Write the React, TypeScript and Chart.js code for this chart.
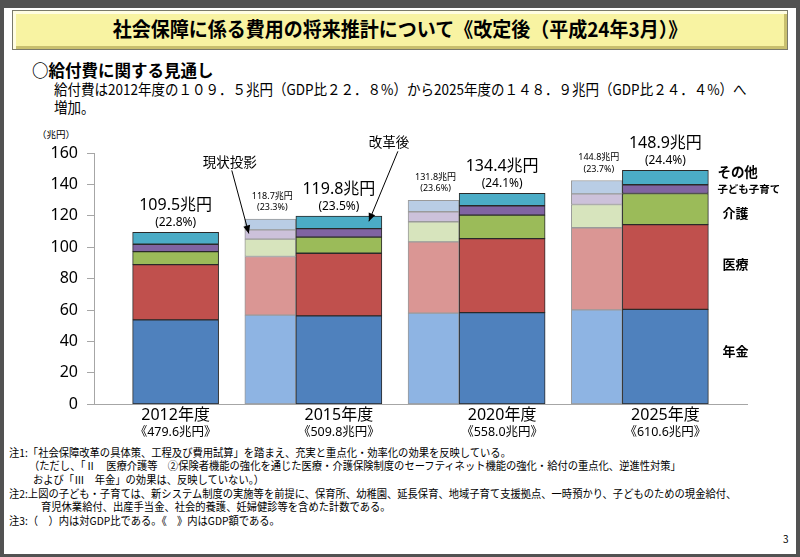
import React, { useEffect, useRef } from 'react';
import { Chart, registerables } from 'chart.js';

Chart.register(...registerables);

// ---- data ----
const categories = ['2012年度', '2015年度', '2020年度', '2025年度'];
const gdpLabels = ['《479.6兆円》', '《509.8兆円》', '《558.0兆円》', '《610.6兆円》'];
const reformTotalLabels = ['109.5兆円', '119.8兆円', '134.4兆円', '148.9兆円'];
const reformRatioLabels = ['(22.8%)', '(23.5%)', '(24.1%)', '(24.4%)'];
const seriesNames = ['年金', '医療', '介護', '子ども子育て', 'その他'];

const reformPension = [53.8, 56.3, 58.4, 60.4];
const reformMedical = [35.1, 39.9, 47.1, 54.0];
const reformCare = [8.3, 10.2, 14.9, 19.8];
const reformChildren = [4.7, 5.5, 6.0, 5.6];
const reformOther = [7.6, 7.9, 8.0, 9.1];

// 現状投影 (projection before reform) for 2015, 2020, 2025
const projCategoryIndex = [1, 2, 3];
const projTotalLabels = ['118.7兆円', '131.8兆円', '144.8兆円'];
const projRatioLabels = ['(23.3%)', '(23.6%)', '(23.7%)'];
const projPension = [56.8, 58.0, 60.1];
const projMedical = [37.3, 45.4, 52.3];
const projCare = [11.1, 12.8, 14.8];
const projChildren = [5.9, 6.4, 6.8];
const projOther = [6.8, 7.2, 8.5];

const Y_MIN = 0;
const Y_MAX = 160;
const Y_STEP = 20;

// ---- styles ----
const reformColors = ['#4F81BD', '#C0504D', '#9BBB59', '#8064A2', '#4BACC6'];
const projColors = ['#8EB4E3', '#DA9694', '#D7E4BD', '#CCC1DA', '#B9CDE5'];
const PROJ_SHIFT = -0.42; // projection bar sits just left of the reform bar (in category units)
const REFORM_BAR_PX = 86;
const PROJ_BAR_PX = 51;
const FONT = "'Noto Sans', 'Noto Sans CJK JP', sans-serif";
const JP = "'Noto Sans CJK JP', 'Noto Sans', sans-serif";

const reformSeries = [reformPension, reformMedical, reformCare, reformChildren, reformOther];
const projSeries = [projPension, projMedical, projCare, projChildren, projOther];

function drawArrow(ctx: CanvasRenderingContext2D, x1: number, y1: number, x2: number, y2: number) {
  ctx.save();
  ctx.strokeStyle = '#000';
  ctx.fillStyle = '#000';
  ctx.lineWidth = 1;
  ctx.beginPath();
  ctx.moveTo(x1, y1);
  ctx.lineTo(x2, y2);
  ctx.stroke();
  const a = Math.atan2(y2 - y1, x2 - x1);
  const L = 8, W = 3.5;
  ctx.beginPath();
  ctx.moveTo(x2, y2);
  ctx.lineTo(x2 - L * Math.cos(a) + W * Math.sin(a), y2 - L * Math.sin(a) - W * Math.cos(a));
  ctx.lineTo(x2 - L * Math.cos(a) - W * Math.sin(a), y2 - L * Math.sin(a) + W * Math.cos(a));
  ctx.closePath();
  ctx.fill();
  ctx.restore();
}

const annotPlugin = {
  id: 'annot',
  afterDraw(chart: any) {
    const ctx: CanvasRenderingContext2D = chart.ctx;
    const area = chart.chartArea;
    const n = seriesNames.length;
    const text = (s: string, x: number, y: number, font: string, align: CanvasTextAlign = 'center') => {
      ctx.font = font;
      ctx.fillStyle = '#000';
      ctx.textAlign = align;
      ctx.textBaseline = 'middle';
      ctx.fillText(s, x, y);
    };
    ctx.save();
    // reform totals
    const reformTop = chart.getDatasetMeta(n - 1);
    categories.forEach((_, i) => {
      const el = reformTop.data[i];
      text(reformTotalLabels[i], el.x, el.y - 27, `16px ${FONT}`);
      text(reformRatioLabels[i], el.x, el.y - 10, `12px ${FONT}`);
      text(gdpLabels[i], el.x, area.bottom + 28.5, `12.5px ${FONT}`);
    });
    // projection totals
    const projTop = chart.getDatasetMeta(2 * n - 1);
    projCategoryIndex.forEach((_, j) => {
      const el = projTop.data[j];
      text(projTotalLabels[j], el.x + 2, el.y - 23, `9px ${FONT}`);
      text(projRatioLabels[j], el.x + 2, el.y - 11.5, `9px ${FONT}`);
    });
    // right-side series names next to the last reform bar
    const lastIdx = categories.length - 1;
    const nameOffsets = [-6, -3, 3.5, 0, -6];
    const nameDx = [14, 14, 14, 9, 9];
    const nameFonts = [`bold 13px ${JP}`, `bold 13px ${JP}`, `bold 13px ${JP}`, `bold 10.5px ${JP}`, `bold 13.5px ${JP}`];
    for (let k = 0; k < n; k++) {
      const el = chart.getDatasetMeta(k).data[lastIdx];
      const mid = (el.y + el.base) / 2;
      text(seriesNames[k], el.x + el.width / 2 + nameDx[k], mid + nameOffsets[k], nameFonts[k], 'left');
    }
    // arrows
    const pc = chart.getDatasetMeta(n + 3).data[0];
    const pEnd = { x: pc.x - pc.width / 2 + 4, y: (pc.y + pc.base) / 2 - 1 };
    drawArrow(ctx, pEnd.x - 17, pEnd.y - 63, pEnd.x, pEnd.y);
    text('現状投影', pEnd.x - 19, pEnd.y - 72, `13.5px ${JP}`);
    const ro = chart.getDatasetMeta(n - 1).data[1];
    const rEnd = { x: ro.x + 30, y: (ro.y + ro.base) / 2 - 1 };
    drawArrow(ctx, rEnd.x + 29, rEnd.y - 70, rEnd.x, rEnd.y);
    text('改革後', rEnd.x + 20, rEnd.y - 79, `13.5px ${JP}`);
    ctx.restore();
  },
};

function T(props: { x: number; y: number; size: number; bold?: boolean; sx?: number; children: any }) {
  const { x, y, size, bold, sx = 1, children } = props;
  return (
    <div
      style={{
        position: 'absolute',
        left: x,
        top: y - size * 0.556,
        fontSize: size,
        lineHeight: `${size}px`,
        height: size,
        fontWeight: bold ? 700 : 400,
        whiteSpace: 'nowrap',
        transform: `scaleX(${sx})`,
        transformOrigin: 'left center',
        fontFamily: JP,
        color: '#000',
      }}
    >
      {children}
    </div>
  );
}

export default function App() {
  const ref = useRef<HTMLCanvasElement>(null);
  useEffect(() => {
    if (!ref.current) return;
    const datasets: any[] = [];
    reformSeries.forEach((vals, k) => {
      datasets.push({
        label: seriesNames[k],
        data: vals.map((v, i) => ({ x: i, y: v })),
        stack: 'reform',
        grouped: false,
        barThickness: REFORM_BAR_PX,
        backgroundColor: reformColors[k],
        borderColor: '#2a2a2a',
        borderWidth: 1,
        borderSkipped: false,
      });
    });
    projSeries.forEach((vals, k) => {
      datasets.push({
        label: '現状投影 ' + seriesNames[k],
        data: vals.map((v, j) => ({ x: projCategoryIndex[j] + PROJ_SHIFT, y: v })),
        stack: 'proj',
        grouped: false,
        barThickness: PROJ_BAR_PX,
        backgroundColor: projColors[k],
        borderColor: '#9a9a9a',
        borderWidth: 1,
        borderSkipped: false,
      });
    });
    const chart = new Chart(ref.current, {
      type: 'bar',
      data: { datasets },
      plugins: [annotPlugin],
      options: {
        animation: false,
        responsive: false,
        devicePixelRatio: 1,
        layout: { padding: { top: 153, right: 53, bottom: 122.7, left: 0 } },
        plugins: { legend: { display: false }, tooltip: { enabled: false } },
        scales: {
          x: {
            type: 'linear',
            min: -0.5,
            max: categories.length - 0.5,
            offset: false,
            afterBuildTicks: (s: any) => {
              s.ticks = categories.map((_, i) => ({ value: i }));
            },
            grid: { display: false, drawTicks: false },
            border: { display: true, color: '#A6A6A6', width: 1 },
            ticks: {
              autoSkip: false,
              maxRotation: 0,
              font: { size: 16, family: FONT },
              color: '#000',
              padding: 2,
              callback: (v: any) => categories[Math.round(v)] ?? '',
            },
            afterFit: (s: any) => {
              s.height = 30;
            },
          },
          y: {
            stacked: true,
            min: Y_MIN,
            max: Y_MAX,
            ticks: { stepSize: Y_STEP, font: { size: 16, family: FONT }, color: '#000', padding: 9 },
            grid: { display: true, drawOnChartArea: false, drawTicks: true, tickLength: 7, color: '#A6A6A6' },
            border: { display: true, color: '#A6A6A6', width: 1 },
            afterFit: (s: any) => {
              s.width = 94;
            },
          },
        },
      } as any,
    });
    return () => chart.destroy();
  }, []);

  const noteSize = 11;
  const noteSx = 0.935;
  const noteY0 = 453;
  const noteStep = 13.6;

  return (
    <div style={{ position: 'absolute', left: 0, top: 0, width: 800, height: 557, background: '#525252', overflow: 'hidden' }}>
      <div style={{ position: 'absolute', left: 4, top: 8, width: 792, height: 546, background: '#fff' }} />
      <div
        style={{
          position: 'absolute',
          left: 12,
          top: 10,
          width: 776,
          height: 40,
          boxSizing: 'border-box',
          background: '#F8F3A2',
          border: '1px solid #7a7a6a',
          boxShadow: 'inset 3px 3px 0 #FFFDE2, inset -3px -3px 0 #C8BF6E',
        }}
      />
      <div
        style={{
          position: 'absolute',
          left: 12,
          top: 30 - 20 * 0.556,
          width: 776,
          textAlign: 'center',
          fontSize: 20,
          lineHeight: '20px',
          fontWeight: 700,
          fontFamily: JP,
          whiteSpace: 'nowrap',
          transform: 'scaleX(0.95)',
          transformOrigin: 'center',
          color: '#000',
        }}
      >
        社会保障に係る費用の将来推計について《改定後（平成24年3月）》
      </div>
      <T x={32} y={71} size={16.5} bold>
        ○給付費に関する見通し
      </T>
      <T x={54} y={89} size={15} sx={0.9}>
        給付費は2012年度の１０９．５兆円（GDP比２２．８%）から2025年度の１４８．９兆円（GDP比２４．４%）へ
      </T>
      <T x={54} y={107} size={15} sx={0.9}>
        増加。
      </T>
      <T x={37} y={135} size={9.5}>
        （兆円）
      </T>
      <T x={9} y={noteY0} size={noteSize} sx={noteSx}>
        注1:「社会保障改革の具体策、工程及び費用試算」を踏まえ、充実と重点化・効率化の効果を反映している。
      </T>
      <T x={29} y={noteY0 + noteStep} size={noteSize} sx={noteSx}>
        （ただし、「Ⅱ　医療介護等　②保険者機能の強化を通じた医療・介護保険制度のセーフティネット機能の強化・給付の重点化、逆進性対策」
      </T>
      <T x={33} y={noteY0 + noteStep * 2} size={noteSize} sx={noteSx}>
        および「Ⅲ　年金」の効果は、反映していない。）
      </T>
      <T x={9} y={noteY0 + noteStep * 3} size={noteSize} sx={noteSx}>
        注2:上図の子ども・子育ては、新システム制度の実施等を前提に、保育所、幼稚園、延長保育、地域子育て支援拠点、一時預かり、子どものための現金給付、
      </T>
      <T x={41} y={noteY0 + noteStep * 4} size={noteSize} sx={noteSx}>
        育児休業給付、出産手当金、社会的養護、妊婦健診等を含めた計数である。
      </T>
      <T x={9} y={noteY0 + noteStep * 5} size={noteSize} sx={noteSx}>
        注3:（　）内は対GDP比である。《　》内はGDP額である。
      </T>
      <T x={783} y={540} size={10}>
        3
      </T>
      <canvas ref={ref} width={800} height={557} style={{ position: 'absolute', left: 0, top: 0, width: 800, height: 557 }} />
    </div>
  );
}
